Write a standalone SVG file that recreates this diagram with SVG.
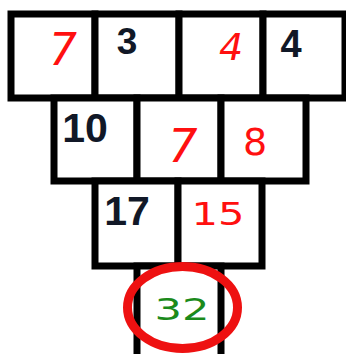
<svg xmlns="http://www.w3.org/2000/svg" width="346" height="354" viewBox="0 0 346 354">
<style>
.c{fill:#fff;stroke:#000;stroke-width:7}
.b{font-family:"Liberation Sans",Arial,sans-serif;font-weight:bold;fill:#111827;text-anchor:middle}
.r{font-family:"DejaVu Sans","Liberation Sans",sans-serif;font-style:italic;fill:#ff1010;text-anchor:middle}
.u{font-family:"DejaVu Sans","Liberation Sans",sans-serif;fill:#ff1010;text-anchor:middle}
.g{font-family:"DejaVu Sans","Liberation Sans",sans-serif;fill:#1b8a1b;text-anchor:middle}
</style>
<rect width="346" height="354" fill="#fff"/>
<g id="r1c1"><rect class="c" x="11" y="14" width="84" height="84"/><text class="r" x="63" y="65" font-size="44">7</text></g>
<g id="r1c2"><rect class="c" x="95" y="14" width="84" height="84"/><text class="b" x="127" y="54" font-size="37">3</text></g>
<g id="r1c3"><rect class="c" x="179" y="14" width="84" height="84"/><text class="r" x="231" y="60" font-size="38">4</text></g>
<g id="r1c4"><rect class="c" x="263" y="14" width="82" height="84"/><text class="b" x="291" y="57" font-size="38">4</text></g>
<g id="r2c1"><rect class="c" x="54" y="98" width="83" height="83"/><text class="b" x="85" y="142" font-size="41">10</text></g>
<g id="r2c2"><rect class="c" x="137" y="98" width="84" height="83"/><text class="r" x="183" y="162" font-size="46">7</text></g>
<g id="r2c3"><rect class="c" x="221" y="98" width="85" height="83"/><text class="u" x="255" y="155" font-size="38">8</text></g>
<g id="r3c1"><rect class="c" x="95" y="181" width="83" height="85"/><text class="b" x="127" y="225" font-size="41">17</text></g>
<g id="r3c2"><rect class="c" x="178" y="181" width="84" height="85"/><text class="u" x="218" y="225" font-size="32" textLength="53" lengthAdjust="spacingAndGlyphs">15</text></g>
<g id="r4c1"><rect class="c" x="137" y="266" width="84" height="100"/><text class="g" x="182" y="320" font-size="31" textLength="55" lengthAdjust="spacingAndGlyphs">32</text></g>
<g id="circle"><ellipse cx="182.5" cy="307.5" rx="55" ry="41" fill="none" stroke="#ee1111" stroke-width="9"/></g>
</svg>
